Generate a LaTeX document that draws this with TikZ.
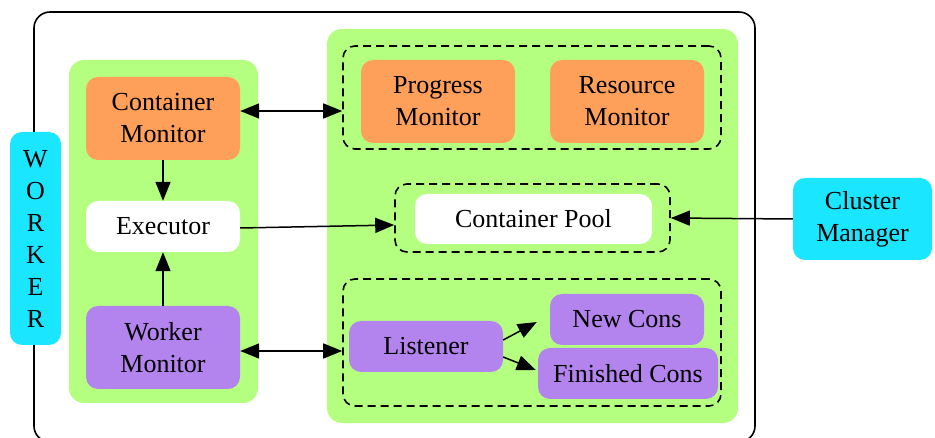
\documentclass[tikz,border=0pt]{standalone}
\usepackage{fontspec}
\setmainfont{Liberation Serif}
\usetikzlibrary{arrows.meta,calc}

\definecolor{panelgreen}{RGB}{180,255,128}
\definecolor{monorange}{RGB}{255,160,90}
\definecolor{conpurple}{RGB}{180,132,238}
\definecolor{workcyan}{RGB}{27,230,255}

\tikzset{
  box/.style={rectangle, rounded corners=12, inner sep=0, align=center,
              font=\fontsize{26}{32}\selectfont, text=black},
  panel/.style={rectangle, rounded corners=15, fill=panelgreen, inner sep=0},
  group/.style={rectangle, rounded corners=12, draw=black, dashed,
                dash pattern=on 8pt off 5pt, line width=1.6pt, inner sep=0},
  link/.style={line width=1.5pt, -{Triangle[length=19pt,width=15pt]}},
  duplex/.style={line width=1.5pt, {Triangle[length=19pt,width=15pt]}-{Triangle[length=19pt,width=15pt]}},
}

\begin{document}
\begin{tikzpicture}[x=1pt,y=-1pt]
\useasboundingbox (0,0) rectangle (935,438);
\clip (0,0) rectangle (935,438);

% worker frame
\draw[line width=1.6pt, rounded corners=16] (34,12) rectangle (755,442);

% left and right panels
\node[panel, minimum width=189, minimum height=343] (lpanel) at (163.5,231.5) {};
\node[panel, minimum width=411, minimum height=394] (rpanel) at (532.5,226) {};

% worker label
\node[box, fill=workcyan, minimum width=51, minimum height=213, rounded corners=12]
  (worker) at (35.5,238.5) {W\\O\\R\\K\\E\\R};

% left column
\node[box, fill=monorange, minimum width=154, minimum height=83] (cmon) at (163,118.5) {Container\\Monitor};
\node[box, fill=white, minimum width=154, minimum height=51] (exec) at (163,226.5) {Executor};
\node[box, fill=conpurple, minimum width=154, minimum height=83] (wmon) at (163,347.5) {Worker\\Monitor};

% monitors group
\node[group, minimum width=378, minimum height=103] (dash1) at (532,97.5) {};
\node[box, fill=monorange, minimum width=154, minimum height=83] (pmon) at (438,101.5) {Progress\\Monitor};
\node[box, fill=monorange, minimum width=154, minimum height=83] (rmon) at (627,101.5) {Resource\\Monitor};

% container pool group
\node[group, minimum width=275, minimum height=68] (dash2) at (532.5,218) {};
\node[box, fill=white, minimum width=237, minimum height=50] (pool) at (533.5,219) {Container Pool};

% connection group
\node[group, minimum width=378, minimum height=127] (dash3) at (532,342.5) {};
\node[box, fill=conpurple, minimum width=154, minimum height=51] (lis) at (426,346.5) {Listener};
\node[box, fill=conpurple, minimum width=154, minimum height=51] (newc) at (627,319.5) {New Cons};
\node[box, fill=conpurple, minimum width=180, minimum height=51] (finc) at (628,373.5) {Finished Cons};

% cluster manager
\node[box, fill=workcyan, minimum width=139, minimum height=82] (cm) at (862.5,219) {Cluster\\Manager};

% connectors
\coordinate (ya) at (0,111);
\coordinate (yb) at (0,351);
\coordinate (yc) at (0,225);
\draw[duplex] (cmon.east |- ya) -- (dash1.west |- ya);
\draw[duplex] (wmon.east |- yb) -- (dash3.west |- yb);
\draw[link] (cmon.south) -- (exec.north);
\draw[link] (wmon.north) -- (exec.south);
\draw[link] ($(exec.east)+(0,1.5)$) -- (dash2.west |- yc);
\draw[link] (cm.west) -- (dash2.east);
\draw[link] ($(lis.east)+(0,-6.5)$) -- ($(newc.west)+(-13,2.5)$);
\draw[link] ($(lis.east)+(0,10.5)$) -- ($(finc.west)+(-2,-3.5)$);
\end{tikzpicture}
\end{document}
